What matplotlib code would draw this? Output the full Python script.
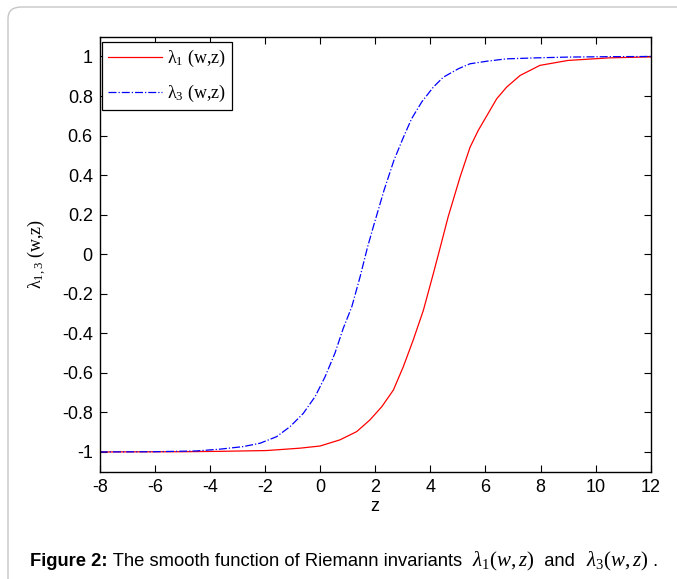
import matplotlib
matplotlib.use("Agg")
import matplotlib.pyplot as plt
from matplotlib.patches import FancyBboxPatch

# ---- data ----
z_l1 = [-8, -5, -3.63, -1.94, -0.73, 0.0, 0.72, 1.33, 1.81, 2.24, 2.66, 3.02, 3.38,
        3.75, 4.11, 4.38, 4.65, 5.08, 5.44, 5.74, 6.05, 6.41, 6.77, 7.26, 7.74, 7.98,
        9, 10.5, 12]
y_l1 = [-1.0, -0.999, -0.997, -0.993, -0.981, -0.97, -0.939, -0.897, -0.838, -0.771,
        -0.687, -0.569, -0.434, -0.283, -0.098, 0.045, 0.19, 0.39, 0.54, 0.626, 0.70,
        0.786, 0.845, 0.904, 0.938, 0.955, 0.98, 0.993, 0.998]

z_l3 = [-8, -6, -4.5, -3.63, -2.79, -2.18, -1.58, -1.09, -0.61, -0.18, 0.18, 0.54,
        0.84, 1.15, 1.45, 1.72, 1.93, 2.32, 2.68, 3.02, 3.32, 3.69, 4.11, 4.47, 5.02,
        5.44, 6.05, 6.77, 7.86, 9, 10.5, 12]
y_l3 = [-1.0, -0.999, -0.995, -0.986, -0.973, -0.956, -0.923, -0.872, -0.805, -0.72,
        -0.62, -0.50, -0.375, -0.266, -0.115, 0.035, 0.138, 0.323, 0.475, 0.59, 0.685,
        0.77, 0.845, 0.895, 0.938, 0.963, 0.976, 0.988, 0.993, 0.997, 0.999, 1.0]

x_ticks = [-8, -6, -4, -2, 0, 2, 4, 6, 8, 10, 12]
y_ticks = [-1, -0.8, -0.6, -0.4, -0.2, 0, 0.2, 0.4, 0.6, 0.8, 1]
y_tick_labels = ["-1", "-0.8", "-0.6", "-0.4", "-0.2", "0", "0.2", "0.4", "0.6", "0.8", "1"]
x_tick_labels = ["-8", "-6", "-4", "-2", "0", "2", "4", "6", "8", "10", "12"]

label_l1 = "λ$_1$ (w,z)"
label_l3 = "λ$_3$ (w,z)"
y_label = "λ$_{1,3}$ (w,z)"
x_label = "z"

plt.rcParams["axes.unicode_minus"] = False
plt.rcParams["mathtext.fontset"] = "custom"
plt.rcParams["mathtext.rm"] = "Liberation Serif"
plt.rcParams["mathtext.it"] = "Liberation Serif:italic"
plt.rcParams["font.family"] = ["Liberation Sans", "DejaVu Sans"]

W, H = 677, 579
fig = plt.figure(figsize=(W / 100, H / 100), dpi=100)

# frame (rounded, only top and left visible)
frame = FancyBboxPatch((8 / W, -0.05), 1.2, (1 - 7 / H) + 0.05,
                       boxstyle="round,pad=0,rounding_size=0.02",
                       transform=fig.transFigure, facecolor="none",
                       edgecolor="#c6c6c6", linewidth=1.0)
fig.patches.append(frame)

ax = fig.add_axes([99.7 / W, 1 - 471.7 / H, 551 / W, 435 / H])
ax.plot(z_l1, y_l1, color="#ff0000", linewidth=0.9, linestyle="-", label=label_l1)
ax.plot(z_l3, y_l3, color="#0000ff", linewidth=0.9, linestyle="-.", label=label_l3)

ax.set_xlim(-8, 12)
ax.set_ylim(-1.1, 1.1)
ax.set_xticks(x_ticks)
ax.set_xticklabels(x_tick_labels)
ax.set_yticks(y_ticks)
ax.set_yticklabels(y_tick_labels)
ax.tick_params(direction="in", top=True, right=True, length=5, width=0.8,
               labelsize=13, pad=5)
for s in ax.spines.values():
    s.set_linewidth(1.0)

ax.set_xlabel(x_label, fontsize=13, labelpad=2)
ax.set_ylabel(y_label, fontsize=13, family="Liberation Serif", labelpad=10)

leg = ax.legend(loc="upper left", bbox_to_anchor=(101.7 / W, 1 - 42 / H),
                bbox_transform=fig.transFigure, borderaxespad=0,
                prop={"family": "Liberation Serif", "size": 13},
                handlelength=3.0, handletextpad=0.25, labelspacing=0.75,
                borderpad=0.35, fancybox=False, framealpha=1)
leg.get_frame().set_edgecolor("black")
leg.get_frame().set_linewidth(0.9)

# caption built from pieces
fig.canvas.draw()
renderer = fig.canvas.get_renderer()
pieces = [
    ("Figure 2:", dict(fontweight="bold", family="Liberation Sans")),
    (" The smooth function of Riemann invariants  ", dict(family="Liberation Sans")),
    (r"$\lambda_1(w,z)$", dict(family="Liberation Serif")),
    ("  and  ", dict(family="Liberation Sans")),
    (r"$\lambda_3(w,z)$", dict(family="Liberation Serif")),
    (" .", dict(family="Liberation Sans")),
]
xpos = 30 / W
ycap = 1 - 566 / H
for txt, kw in pieces:
    size = 13.2 if "$" not in txt else 15
    t = fig.text(xpos, ycap, txt, fontsize=size, va="baseline", ha="left", **kw)
    bb = t.get_window_extent(renderer)
    xpos += bb.width / W

fig.savefig("out.png", dpi=100)
